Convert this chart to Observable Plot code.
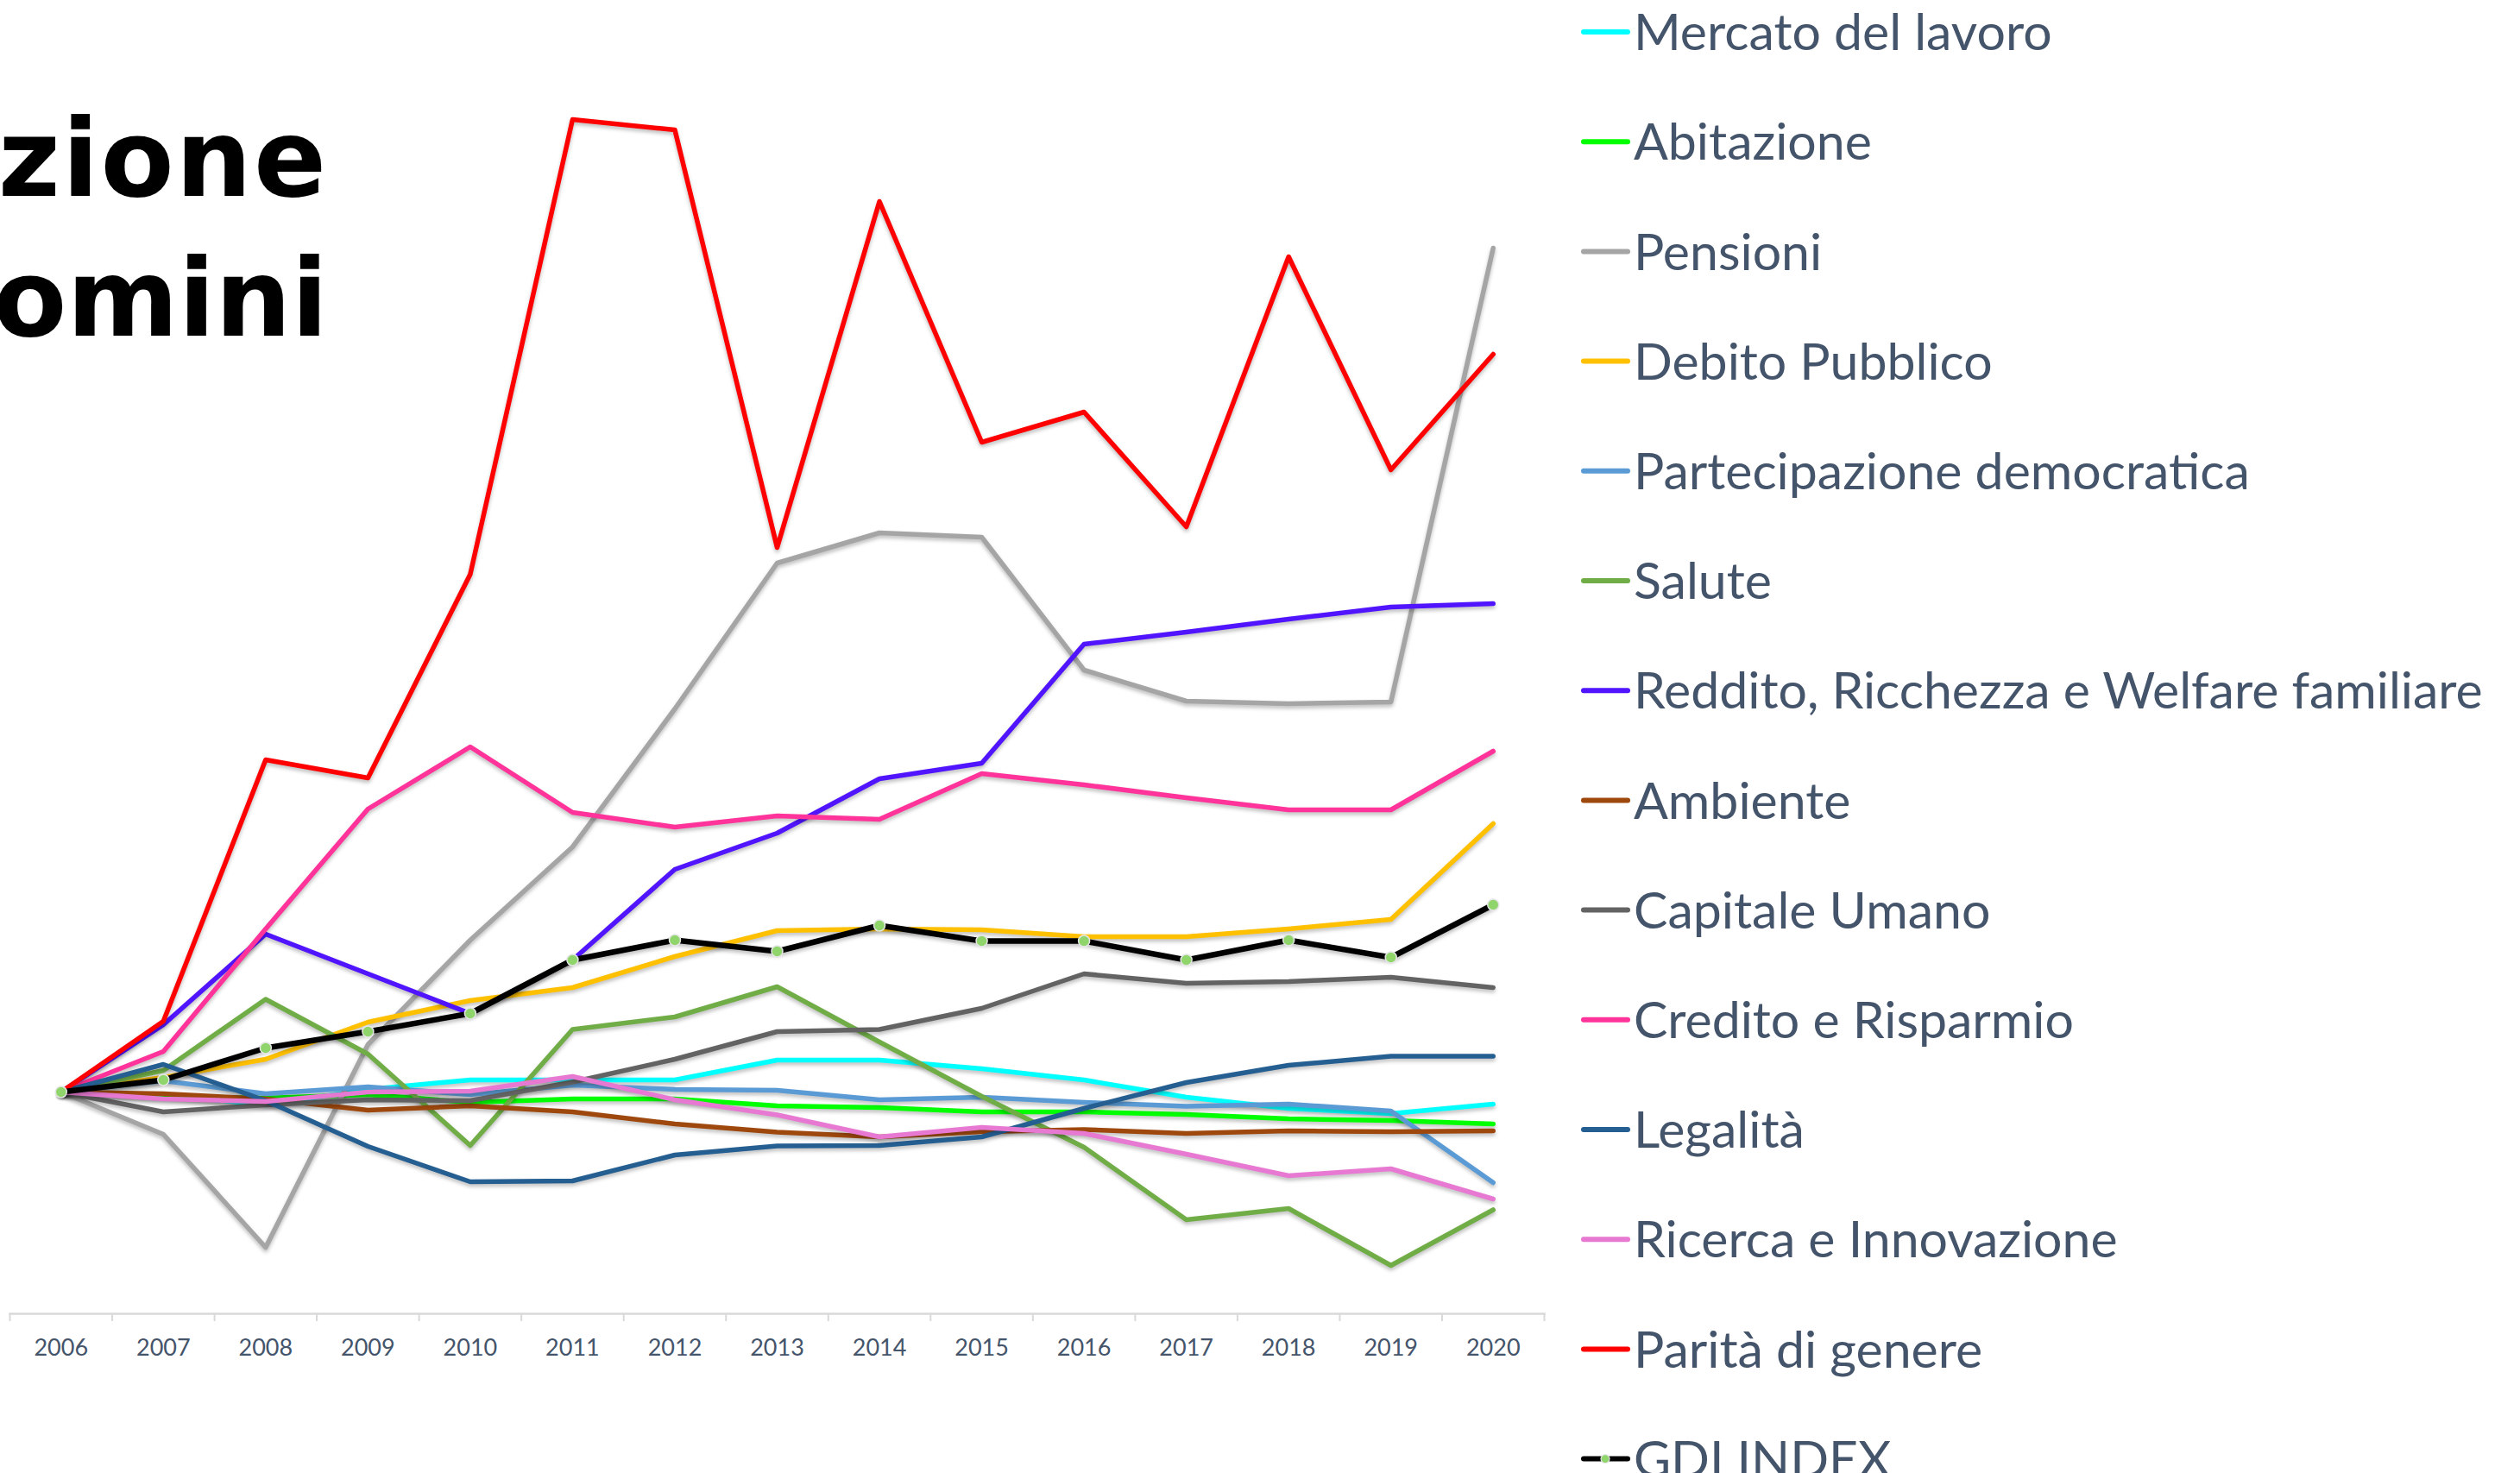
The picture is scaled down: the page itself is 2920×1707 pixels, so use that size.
<!DOCTYPE html>
<html>
<head>
<meta charset="utf-8">
<script src="https://cdn.jsdelivr.net/npm/d3@7"></script>
<script src="https://cdn.jsdelivr.net/npm/@observablehq/plot@0.6"></script>
<style>
  body { margin: 0; background: #fff; }
  #wrap { position: relative; width: 2920px; height: 1707px; overflow: hidden; background: #fff; }
  #chart { position: absolute; left: 0; top: 0; }
  #overlay { position: absolute; left: 0; top: 0; pointer-events: none; }
  #chart g[aria-label="line"] path { filter: drop-shadow(0px 3px 2px rgba(0,0,0,0.25)); }
</style>
</head>
<body>
<div id="wrap">
  <div id="chart"></div>
  <svg id="overlay" width="2920" height="1707"></svg>
</div>
<script>
// ---- Data (2006 = 0) ----
const years = [2006, 2007, 2008, 2009, 2010, 2011, 2012, 2013, 2014, 2015, 2016, 2017, 2018, 2019, 2020];

const seriesNames = [
  "Mercato del lavoro", "Abitazione", "Pensioni", "Debito Pubblico",
  "Partecipazione democratica", "Salute", "Reddito, Ricchezza e Welfare familiare",
  "Ambiente", "Capitale Umano", "Credito e Risparmio", "Legalità",
  "Ricerca e Innovazione", "Parità di genere"
];
const seriesColors = [
  "#00FFFF", "#00FF00", "#A5A5A5", "#FFC000",
  "#5B9BD5", "#70AD47", "#5014FF",
  "#9E480E", "#636363", "#FF3399", "#255E91",
  "#E879D2", "#FF0000"
];

const mercato        = [0, -0.3, -1.5, 0.3, 1.4, 1.4, 1.4, 3.7, 3.7, 2.7, 1.4, -0.6, -1.9, -2.5, -1.4];
const abitazione     = [0, -0.5, -0.7, -0.3, -1.2, -0.8, -0.8, -1.6, -1.8, -2.3, -2.3, -2.6, -3.1, -3.3, -3.7];
const pensioni       = [0, -4.9, -18.0, 5.5, 17.6, 28.4, 44.4, 61.3, 64.8, 64.3, 48.9, 45.3, 45.0, 45.2, 97.8];
const debito         = [0, 1.7, 3.8, 8.1, 10.6, 12.1, 15.7, 18.7, 18.9, 18.8, 18.0, 18.0, 18.9, 20.0, 31.1];
const partecipazione = [0, 1.3, -0.2, 0.6, -0.3, 0.8, 0.3, 0.2, -0.9, -0.6, -1.2, -1.65, -1.4, -2.2, -10.5];
const salute         = [0, 2.5, 10.75, 4.4, -6.2, 7.25, 8.7, 12.2, 5.8, -0.5, -6.4, -14.8, -13.5, -20.1, -13.65];
const reddito        = [0, 7.8, 18.3, 13.7, 9.1, 15.3, 25.8, 30.0, 36.3, 38.1, 51.9, 53.3, 54.8, 56.2, 56.6];
const ambiente       = [0, -0.2, -0.8, -2.1, -1.6, -2.3, -3.7, -4.65, -5.2, -4.6, -4.35, -4.8, -4.5, -4.6, -4.5];
const capitale       = [0, -2.3, -1.5, -0.9, -1.0, 1.15, 3.8, 7.0, 7.25, 9.7, 13.7, 12.6, 12.8, 13.3, 12.1];
const credito        = [0, 4.7, 18.9, 32.8, 40.0, 32.4, 30.7, 32.0, 31.6, 36.9, 35.6, 34.1, 32.7, 32.7, 39.5];
const legalita       = [0, 3.2, -1.0, -6.3, -10.4, -10.3, -7.3, -6.25, -6.2, -5.2, -1.9, 1.1, 3.1, 4.15, 4.15];
const ricerca        = [0, -0.8, -1.1, 0.0, 0.1, 1.8, -0.9, -2.65, -5.2, -4.1, -4.8, -7.2, -9.7, -8.9, -12.4];
const parita         = [0, 8.2, 38.5, 36.4, 60.0, 112.7, 111.5, 63.1, 103.2, 75.3, 78.8, 65.5, 96.8, 72.1, 85.5];
const gdiIndex       = [0, 1.4, 5.1, 7.0, 9.1, 15.3, 17.6, 16.3, 19.3, 17.5, 17.5, 15.3, 17.6, 15.6, 21.7];

const gdiName = "GDI INDEX";
const yDomain = [-25.7, 126.5];

// ---- Build tables ----
const seriesValues = [mercato, abitazione, pensioni, debito, partecipazione, salute, reddito,
                      ambiente, capitale, credito, legalita, ricerca, parita];
const rows = [];
seriesNames.forEach((name, i) => {
  seriesValues[i].forEach((v, j) => rows.push({series: name, year: years[j], value: v}));
});
const gdiRows = gdiIndex.map((v, j) => ({year: years[j], value: v}));
const bounds = years.map(y => y - 0.5).concat([years[years.length - 1] + 0.5]);

const chart = Plot.plot({
  width: 1800,
  height: 1707,
  marginLeft: 11,
  marginRight: 11,
  marginTop: 0,
  marginBottom: 185,
  style: {fontFamily: "Lato, 'Open Sans', sans-serif", background: "transparent"},
  x: {domain: [years[0] - 0.5, years[years.length - 1] + 0.5], axis: null, label: null},
  y: {domain: yDomain, axis: null, label: null},
  color: {domain: seriesNames, range: seriesColors},
  marks: [
    Plot.frame({anchor: "bottom", stroke: "#D9D9D9", strokeWidth: 2.5}),
    Plot.axisX(bounds, {tickSize: 9, stroke: "#D9D9D9", strokeWidth: 2, text: null, label: null}),
    Plot.axisX(years, {tickSize: 0, tickPadding: 29, tickFormat: d => String(d), fontSize: 27, fill: "#44546A", label: null}),
    Plot.lineY(rows, {x: "year", y: "value", z: "series", stroke: "series", strokeWidth: 5.5}),
    Plot.lineY(gdiRows, {x: "year", y: "value", stroke: "#000000", strokeWidth: 6.5}),
    Plot.dot(gdiRows, {x: "year", y: "value", r: 6.5, fill: "#8FD56C", stroke: "#E6E6E6", strokeWidth: 1.5})
  ]
});
document.getElementById("chart").appendChild(chart);

// ---- Title (cropped slide title) and legend ----
const svg = d3.select("#overlay");
const title = svg.append("g")
  .attr("font-family", "'DejaVu Sans', sans-serif")
  .attr("font-weight", "bold")
  .attr("font-size", 124)
  .attr("fill", "#000")
  .attr("text-anchor", "end");
title.append("text").attr("x", 380).attr("y", 227).attr("letter-spacing", 2).text("zione");
title.append("text").attr("x", 380).attr("y", 389).text("omini");

const legendNames = seriesNames.concat([gdiName]);
const legendColors = seriesColors.concat(["#000000"]);
const lg = svg.append("g")
  .attr("font-family", "Lato, 'Open Sans', sans-serif")
  .attr("font-size", 59)
  .attr("fill", "#44546A");
legendNames.forEach((name, i) => {
  const cy = 37 + i * 127.2;
  const g = lg.append("g").attr("transform", `translate(0,${cy})`);
  g.append("line").attr("x1", 1835).attr("x2", 1886).attr("y1", 0).attr("y2", 0)
    .attr("stroke", legendColors[i]).attr("stroke-width", 6).attr("stroke-linecap", "round");
  if (name === gdiName) {
    g.append("circle").attr("cx", 1860).attr("cy", 0).attr("r", 5)
      .attr("fill", "#8FD56C").attr("stroke", "#E6E6E6").attr("stroke-width", 1.2);
  }
  g.append("text").attr("x", 1893).attr("y", 0).attr("dy", "0.36em").text(name);
});
</script>
</body>
</html>
